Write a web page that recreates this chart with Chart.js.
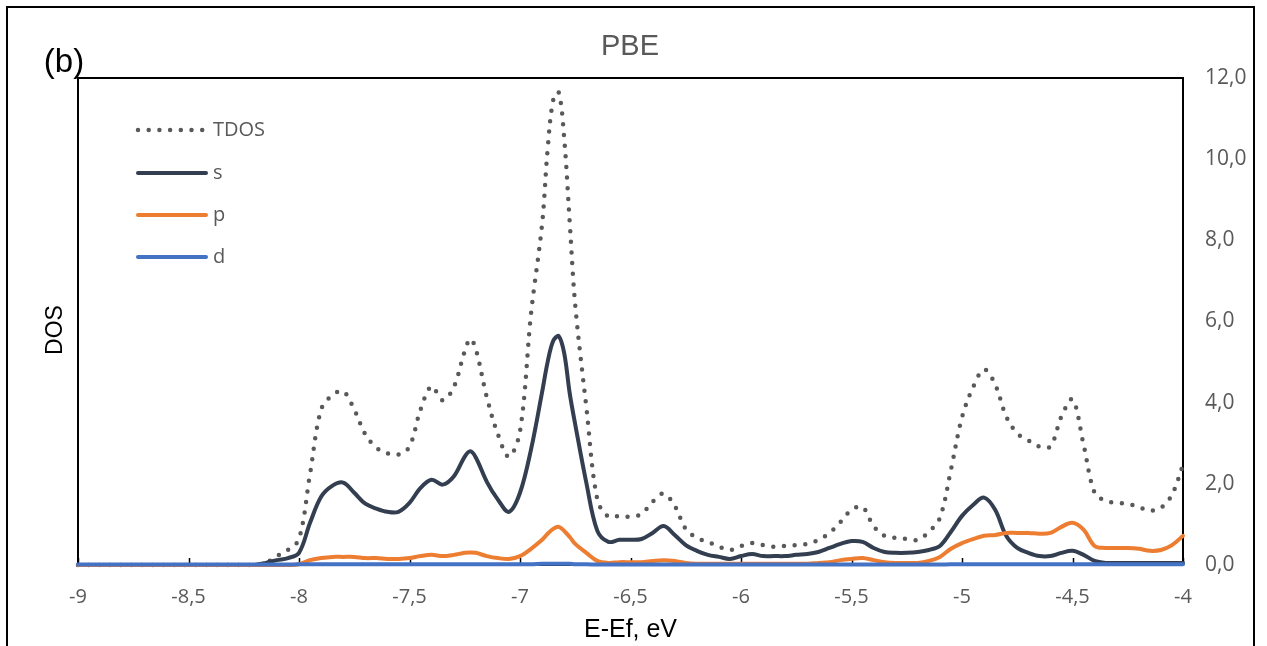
<!DOCTYPE html>
<html>
<head>
<meta charset="utf-8">
<title>PBE DOS</title>
<script src="https://cdn.jsdelivr.net/npm/chart.js@4.4.1/dist/chart.umd.min.js"></script>
<style>
    html, body { margin: 0; padding: 0; background: #fff; overflow: hidden; }
    #wrap { position: relative; width: 1267px; height: 646px; }
    #frame { position: absolute; left: 6px; top: 6px; width: 1245px; height: 700px; border: 2px solid #000; pointer-events: none; }
    canvas { position: absolute; left: 0; top: 0; }
</style>
</head>
<body>
<div id="wrap">
    <canvas id="dosChart" width="1267" height="646"></canvas>
    <div id="frame"></div>
</div>
<script>
// Energy grid, E-Ef in eV (extra points around the sharp peaks)
const energies = [
    -9.00, -8.95, -8.90, -8.85, -8.80, -8.75, -8.70, -8.65, -8.60, -8.55,
    -8.50, -8.45, -8.40, -8.35, -8.30, -8.25, -8.20,
    -8.15, -8.10, -8.05, -8.00, -7.95, -7.90, -7.85, -7.80, -7.75, -7.70,
    -7.65, -7.60, -7.55, -7.50, -7.45, -7.40, -7.35, -7.30, -7.25, -7.225, -7.20,
    -7.15, -7.10, -7.05, -7.00, -6.95, -6.90, -6.875, -6.85, -6.825, -6.80,
    -6.775, -6.75, -6.70, -6.65, -6.60, -6.55, -6.50, -6.45, -6.40, -6.35,
    -6.30, -6.25, -6.20, -6.15, -6.10, -6.05, -6.00, -5.95, -5.90, -5.85,
    -5.80, -5.75, -5.70, -5.65, -5.60, -5.55, -5.50, -5.45, -5.40, -5.35,
    -5.30, -5.25, -5.20, -5.15, -5.10, -5.05, -5.00, -4.95, -4.90, -4.85,
    -4.80, -4.75, -4.70, -4.65, -4.60, -4.55, -4.50, -4.45, -4.40, -4.35,
    -4.30, -4.25, -4.20, -4.15, -4.10, -4.05, -4.00
];

const tdos = [
    0, 0, 0, 0, 0, 0, 0, 0, 0, 0,
    0, 0, 0, 0, 0, 0, 0,
    0.05, 0.22, 0.37, 0.64, 2.25, 3.83, 4.18, 4.28, 3.83, 3.22,
    2.89, 2.75, 2.72, 2.92, 3.83, 4.40, 4.06, 4.38, 5.27, 5.57, 5.32,
    4.13, 3.22, 2.67, 3.29, 6.20, 8.40, 10.24, 11.45, 11.65, 10.51,
    8.44, 6.40, 3.90, 1.61, 1.19, 1.21, 1.19, 1.26, 1.56, 1.76,
    1.46, 0.89, 0.67, 0.57, 0.45, 0.37, 0.47, 0.54, 0.49, 0.45,
    0.47, 0.49, 0.52, 0.62, 0.79, 1.06, 1.36, 1.43, 0.96, 0.72,
    0.67, 0.64, 0.62, 0.82, 1.16, 2.35, 3.64, 4.38, 4.82, 4.45,
    3.66, 3.24, 3.07, 2.92, 2.92, 3.66, 4.08, 2.97, 1.78, 1.58,
    1.53, 1.51, 1.43, 1.34, 1.41, 1.73, 2.47
];

const sDos = [
    0, 0, 0, 0, 0, 0, 0, 0, 0, 0,
    0, 0, 0, 0, 0, 0, 0,
    0.05, 0.12, 0.17, 0.30, 1.04, 1.68, 1.95, 2.03, 1.78, 1.51,
    1.39, 1.31, 1.31, 1.53, 1.90, 2.10, 1.98, 2.18, 2.67, 2.80, 2.65,
    2.05, 1.61, 1.31, 1.78, 2.85, 4.26, 5.00, 5.52, 5.64, 5.22,
    4.23, 3.46, 2.03, 0.84, 0.57, 0.62, 0.62, 0.64, 0.79, 0.96,
    0.74, 0.49, 0.35, 0.25, 0.20, 0.15, 0.22, 0.27, 0.22, 0.22,
    0.22, 0.25, 0.27, 0.32, 0.42, 0.52, 0.59, 0.57, 0.42, 0.32,
    0.30, 0.30, 0.32, 0.37, 0.47, 0.82, 1.21, 1.48, 1.66, 1.36,
    0.72, 0.42, 0.30, 0.22, 0.22, 0.30, 0.35, 0.25, 0.10, 0.05,
    0.05, 0.05, 0.05, 0.05, 0.05, 0.05, 0.05
];

const pDos = [
    0, 0, 0, 0, 0, 0, 0, 0, 0, 0,
    0, 0, 0, 0, 0, 0, 0,
    0, 0, 0, 0.02, 0.12, 0.17, 0.20, 0.20, 0.20, 0.17,
    0.17, 0.15, 0.15, 0.17, 0.22, 0.25, 0.22, 0.25, 0.30, 0.31, 0.30,
    0.22, 0.17, 0.15, 0.22, 0.40, 0.62, 0.77, 0.89, 0.94, 0.84,
    0.69, 0.52, 0.30, 0.10, 0.05, 0.07, 0.07, 0.07, 0.10, 0.12,
    0.10, 0.05, 0.03, 0.03, 0.03, 0.03, 0.03, 0.03, 0.03, 0.03,
    0.03, 0.03, 0.03, 0.05, 0.07, 0.12, 0.15, 0.17, 0.12, 0.07,
    0.05, 0.05, 0.05, 0.10, 0.20, 0.40, 0.54, 0.64, 0.72, 0.74,
    0.79, 0.79, 0.79, 0.77, 0.79, 0.94, 1.04, 0.87, 0.47, 0.42,
    0.42, 0.42, 0.40, 0.35, 0.37, 0.49, 0.72
];

const dDos = [
    0.01, 0.01, 0.01, 0.01, 0.01, 0.01, 0.01, 0.01, 0.01, 0.01,
    0.01, 0.01, 0.01, 0.01, 0.01, 0.01, 0.01,
    0.01, 0.01, 0.01, 0.02, 0.02, 0.02, 0.02, 0.02, 0.02, 0.02,
    0.02, 0.02, 0.02, 0.02, 0.02, 0.02, 0.02, 0.02, 0.02, 0.02, 0.02,
    0.02, 0.02, 0.02, 0.02, 0.02, 0.03, 0.03, 0.03, 0.03, 0.03,
    0.03, 0.02, 0.02, 0.01, 0.01, 0.01, 0.01, 0.01, 0.01, 0.01,
    0.01, 0.01, 0.01, 0.01, 0.01, 0.01, 0.01, 0.01, 0.01, 0.01,
    0.01, 0.01, 0.01, 0.01, 0.01, 0.01, 0.01, 0.01, 0.01, 0.01,
    0.01, 0.01, 0.01, 0.01, 0.01, 0.02, 0.02, 0.02, 0.02, 0.02,
    0.02, 0.02, 0.02, 0.02, 0.02, 0.02, 0.02, 0.02, 0.02, 0.02,
    0.02, 0.02, 0.02, 0.02, 0.02, 0.02, 0.02
];

const seriesNames = ['TDOS', 's', 'p', 'd'];
const yTicks = [0, 2, 4, 6, 8, 10, 12];

const GRAY = '#595959';

function pts(values) {
    return energies.map((e, i) => ({ x: e, y: values[i] }));
}

// comma as decimal separator, like the original
function commaNum(v, digits) {
    const s = digits === undefined ? String(Math.round(v * 10) / 10) : v.toFixed(digits);
    return s.replace('.', ',');
}

// Plot frame, inward x ticks, legend and free texts
const decorations = {
    id: 'decorations',
    beforeDatasetsDraw(chart) {
        const ctx = chart.ctx;
        const a = chart.chartArea;
        ctx.save();
        ctx.strokeStyle = '#000';
        ctx.lineWidth = 2;
        ctx.strokeRect(a.left, a.top, a.right - a.left, a.bottom - a.top);

        const xs = chart.scales.x;
        ctx.lineWidth = 1.5;
        xs.ticks.forEach(t => {
            const px = Math.round(xs.getPixelForValue(t.value)) + 0.5;
            ctx.beginPath();
            ctx.moveTo(px, a.bottom);
            ctx.lineTo(px, a.bottom - 7);
            ctx.stroke();
        });
        ctx.restore();
    },
    afterDraw(chart) {
        const ctx = chart.ctx;
        ctx.save();

        // legend inside the plot
        const rows = [130, 173, 215, 257];
        chart.data.datasets.forEach((ds, i) => {
            const y = rows[i];
            ctx.beginPath();
            ctx.strokeStyle = ds.borderColor;
            ctx.lineWidth = ds.borderWidth;
            ctx.lineCap = 'round';
            ctx.setLineDash(ds.borderDash || []);
            ctx.moveTo(138, y);
            ctx.lineTo(206, y);
            ctx.stroke();
            ctx.setLineDash([]);
            ctx.fillStyle = GRAY;
            ctx.font = '20px "Open Sans"';
            ctx.textAlign = 'left';
            ctx.textBaseline = 'middle';
            ctx.fillText(ds.label, 213, y);
        });

        // chart title
        ctx.fillStyle = GRAY;
        ctx.font = '29px "Liberation Sans"';
        ctx.textAlign = 'center';
        ctx.textBaseline = 'middle';
        ctx.fillText('PBE', 630, 47);

        // panel label
        ctx.fillStyle = '#000';
        ctx.font = '33px "Liberation Sans"';
        ctx.fillText('(b)', 64, 63);

        // y axis title on the left side
        ctx.translate(56, 330);
        ctx.rotate(-Math.PI / 2);
        ctx.font = '23px "Liberation Sans"';
        ctx.fillText('DOS', 0, 0);
        ctx.restore();
    }
};

const ctx = document.getElementById('dosChart').getContext('2d');

const baseLine = {
    pointRadius: 0,
    pointHoverRadius: 0,
    fill: false,
    tension: 0.35,
    borderCapStyle: 'round',
    borderJoinStyle: 'round',
    clip: false
};

window.dosChart = new Chart(ctx, {
    type: 'line',
    data: {
        datasets: [
            Object.assign({}, baseLine, {
                label: seriesNames[0],
                data: pts(tdos),
                borderColor: GRAY,
                borderWidth: 4.5,
                borderDash: [0, 10.7],
                order: 4
            }),
            Object.assign({}, baseLine, {
                label: seriesNames[1],
                data: pts(sDos),
                borderColor: '#333F50',
                borderWidth: 4,
                order: 3
            }),
            Object.assign({}, baseLine, {
                label: seriesNames[2],
                data: pts(pDos),
                borderColor: '#ED7D31',
                borderWidth: 4,
                order: 2
            }),
            Object.assign({}, baseLine, {
                label: seriesNames[3],
                data: pts(dDos),
                borderColor: '#4472C4',
                borderWidth: 4,
                order: 1
            })
        ]
    },
    options: {
        responsive: false,
        animation: false,
        layout: { padding: { left: 78, top: 78, right: 0, bottom: 0 } },
        plugins: {
            legend: { display: false },
            tooltip: { enabled: false },
            title: { display: false }
        },
        scales: {
            x: {
                type: 'linear',
                min: -9,
                max: -4,
                grid: { display: false, drawTicks: false },
                border: { display: false },
                ticks: {
                    stepSize: 0.5,
                    padding: 20,
                    color: GRAY,
                    font: { family: 'Open Sans', size: 20 },
                    maxRotation: 0,
                    autoSkip: false,
                    callback: v => commaNum(v)
                },
                title: {
                    display: true,
                    text: 'E-Ef, eV',
                    color: '#000',
                    font: { family: 'Liberation Sans', size: 25 },
                    padding: { top: 0, bottom: 1 }
                },
                afterFit: s => { s.height = 81; }
            },
            y: {
                position: 'right',
                min: 0,
                max: 12,
                grid: { display: false, drawTicks: false },
                border: { display: false },
                afterBuildTicks: s => { s.ticks = yTicks.map(v => ({ value: v })); },
                ticks: {
                    padding: 22,
                    color: GRAY,
                    font: { family: 'Open Sans', size: 21 },
                    callback: v => commaNum(v, 1)
                },
                afterFit: s => { s.width = 84; }
            }
        }
    },
    plugins: [decorations]
});
</script>
</body>
</html>
